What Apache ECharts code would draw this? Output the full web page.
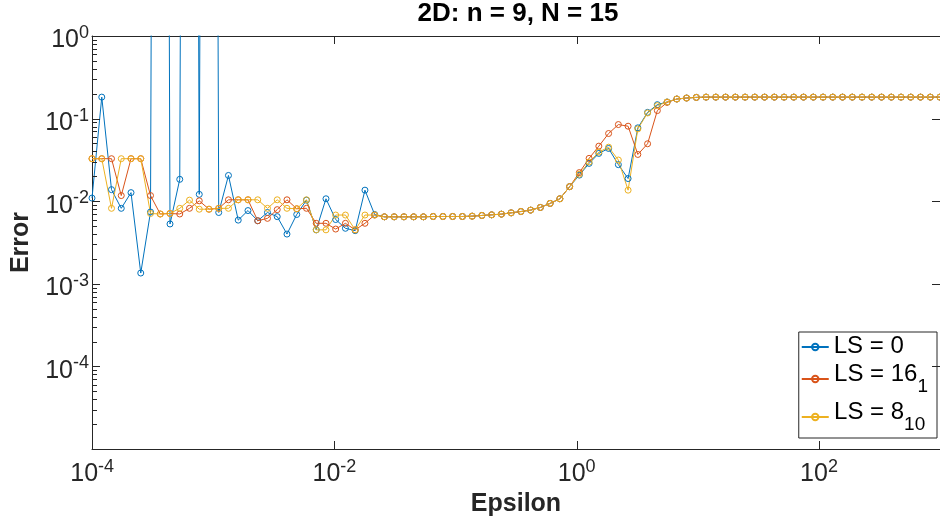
<!DOCTYPE html>
<html>
<head>
<meta charset="utf-8">
<script src="https://cdn.jsdelivr.net/npm/echarts@6/dist/echarts.min.js"></script>
<style>
html, body { margin: 0; padding: 0; background: #fff; }
#chart { width: 940px; height: 522px; }
</style>
</head>
<body>
<div id="chart"></div>
<script>
// sample points (log spaced, 1e-4 .. 1e3)
const epsilon = [
  1.000e-4, 1.204e-4, 1.449e-4, 1.744e-4, 2.099e-4, 2.526e-4, 3.041e-4, 3.660e-4, 4.405e-4, 5.302e-4,
  6.381e-4, 7.681e-4, 9.245e-4, 1.112e-3, 1.338e-3, 1.611e-3, 1.939e-3, 2.334e-3, 2.809e-3, 3.381e-3,
  4.069e-3, 4.897e-3, 5.895e-3, 7.095e-3, 8.540e-3, 1.027e-2, 1.236e-2, 1.488e-2, 1.791e-2, 2.154e-2,
  2.593e-2, 3.121e-2, 3.757e-2, 4.522e-2, 5.443e-2, 6.551e-2, 7.885e-2, 9.490e-2, 0.1142, 0.1374,
  0.1654, 0.1991, 0.2396, 0.2883, 0.3471, 0.4177, 0.5024, 0.6047, 0.7279, 0.8761,
  1.054, 1.269, 1.527, 1.838, 2.213, 2.663, 3.205, 3.857, 4.642, 5.587,
  6.724, 8.093, 9.739, 11.72, 14.11, 16.98, 20.43, 24.60, 29.60, 35.63,
  42.88, 51.61, 62.11, 74.75, 89.97, 108.3, 130.3, 156.8, 188.7, 227.2,
  273.4, 329.1, 396.1, 476.7, 573.7, 690.5, 831.1, 1000
]

// LS = 0 (the 1e30 entries blow up far above the plot)
const errLS0 = [
  0.0109, 0.182, 0.0138, 0.0082, 0.0127, 0.00135, 0.0074, 1e30, 0.0053, 0.0184,
  1e30, 0.0121, 1e30, 0.0073, 0.0205, 0.0059, 0.0077, 0.0058, 0.0073, 0.0065,
  0.0040, 0.0069, 0.0103, 0.0045, 0.0107, 0.0060, 0.0047, 0.0044, 0.0136, 0.0069,
  0.00647, 0.00647, 0.00647, 0.00647, 0.00647, 0.00653, 0.00653, 0.00653, 0.00653, 0.00659,
  0.00672, 0.00684, 0.00697, 0.00723, 0.0075, 0.0078, 0.0084, 0.0094, 0.0107, 0.0150,
  0.0207, 0.0287, 0.0379, 0.0435, 0.0277, 0.0188, 0.0773, 0.119, 0.1475, 0.159,
  0.1726, 0.1774, 0.1806, 0.182, 0.182, 0.182, 0.182, 0.182, 0.182, 0.182,
  0.182, 0.182, 0.182, 0.182, 0.182, 0.182, 0.182, 0.182, 0.182, 0.182,
  0.182, 0.182, 0.182, 0.182, 0.182, 0.182, 0.182, 0.182
]

// LS = 16_1
const errLS16 = [
  0.0327, 0.0327, 0.0327, 0.0117, 0.0327, 0.0327, 0.0117, 0.0070, 0.0071, 0.0070,
  0.0082, 0.0101, 0.0080, 0.0082, 0.0104, 0.0104, 0.0104, 0.0058, 0.0062, 0.0079,
  0.0104, 0.0081, 0.0082, 0.0054, 0.0054, 0.0046, 0.0054, 0.0045, 0.0054, 0.0068,
  0.00647, 0.00647, 0.00647, 0.00647, 0.00647, 0.00653, 0.00653, 0.00653, 0.00653, 0.00659,
  0.00672, 0.00684, 0.00697, 0.00723, 0.0075, 0.0078, 0.0084, 0.0094, 0.0107, 0.0150,
  0.0222, 0.033, 0.0464, 0.066, 0.0847, 0.0809, 0.0368, 0.0496, 0.125, 0.157,
  0.1726, 0.1774, 0.1806, 0.182, 0.182, 0.182, 0.182, 0.182, 0.182, 0.182,
  0.182, 0.182, 0.182, 0.182, 0.182, 0.182, 0.182, 0.182, 0.182, 0.182,
  0.182, 0.182, 0.182, 0.182, 0.182, 0.182, 0.182, 0.182
]

// LS = 8_10
const errLS8 = [
  0.0327, 0.0327, 0.0082, 0.0327, 0.0327, 0.0327, 0.0071, 0.0070, 0.0071, 0.0082,
  0.0103, 0.0080, 0.0080, 0.0082, 0.0082, 0.0104, 0.0104, 0.0104, 0.0082, 0.0104,
  0.0082, 0.0081, 0.0104, 0.0045, 0.0045, 0.0068, 0.0068, 0.0045, 0.0068, 0.0068,
  0.00647, 0.00647, 0.00647, 0.00647, 0.00647, 0.00653, 0.00653, 0.00653, 0.00653, 0.00659,
  0.00672, 0.00684, 0.00697, 0.00723, 0.0075, 0.0078, 0.0084, 0.0094, 0.0107, 0.0150,
  0.0212, 0.0298, 0.0393, 0.0451, 0.0315, 0.0136, 0.075, 0.117, 0.1435, 0.159,
  0.1726, 0.1774, 0.1806, 0.182, 0.182, 0.182, 0.182, 0.182, 0.182, 0.182,
  0.182, 0.182, 0.182, 0.182, 0.182, 0.182, 0.182, 0.182, 0.182, 0.182,
  0.182, 0.182, 0.182, 0.182, 0.182, 0.182, 0.182, 0.182
]

// decade exponents used for ticks and tick labels
const xTickExp = [-4, -2, 0, 2]
const yTickExp = [-4, -3, -2, -1, 0]

const X_MIN = -4, X_MAX = 3, Y_MIN = -5, Y_MAX = 0

const FONT = '"Liberation Sans", Arial, Helvetica, sans-serif'
const AX = '#262626'

// axes run in log10 space, minor ticks at 2..9 of each decade
let yMinor = []
for (let d = Y_MIN; d < Y_MAX; d++) {
  for (let k = 2; k <= 9; k++) yMinor.push(d + Math.log10(k))
}

function powLabel(v) {
  return '{h| }{b|10}{p|' + Math.round(v) + '}'
}
const powRich = {
  h: { fontSize: 1, lineHeight: 29 },
  b: { fontSize: 25, lineHeight: 25, verticalAlign: 'bottom', fontFamily: FONT, color: AX },
  p: { fontSize: 18, lineHeight: 18, verticalAlign: 'top', fontFamily: FONT, color: AX }
}

function legendName(name) {
  if (name === 'LS = 16_1') return '{h| }{m|LS = 16}{s|1}'
  if (name === 'LS = 8_10') return '{h| }{m|LS = 8}{s|10}'
  return '{m|' + name + '}'
}

function mkSeries(name, vals, color) {
  return {
    name: name,
    type: 'line',
    xAxisIndex: 0,
    yAxisIndex: 0,
    data: epsilon.map((x, i) => [Math.log10(x), Math.log10(vals[i])]),
    symbol: 'circle',
    symbolSize: 6,
    showSymbol: true,
    clip: true,
    lineStyle: { color: color, width: 1 },
    itemStyle: { color: 'rgba(255,255,255,0)', borderColor: color, borderWidth: 1 },
    emphasis: { disabled: true }
  }
}

// inward tick marks along the box, placed by the axes' own scales
function mkTicks(points, dx, dy) {
  return {
    type: 'custom',
    xAxisIndex: 0,
    yAxisIndex: 0,
    silent: true,
    clip: false,
    z: 4,
    data: points,
    renderItem: (params, api) => {
      let p = api.coord([api.value(0), api.value(1)])
      let x = Math.round(p[0]) + (dx ? 0 : 0.5)
      let y = Math.round(p[1]) + (dy ? 0 : 0.5)
      return {
        type: 'line',
        shape: { x1: x, y1: y, x2: x + dx, y2: y + dy },
        style: { stroke: AX, lineWidth: 1 }
      }
    }
  }
}

const baseAxis = (extra) => Object.assign({
  type: 'value',
  splitLine: { show: false },
  axisTick: { show: false },
  axisLine: { show: true, onZero: false, lineStyle: { color: AX, width: 1 } },
  axisLabel: { show: false }
}, extra)

let ch = echarts.init(document.getElementById('chart'))
let option = {
  animation: false,
  backgroundColor: '#fff',
  title: {
    text: '2D: n = 9, N = 15',
    left: 518,
    top: 1,
    padding: 0,
    textAlign: 'center',
    textStyle: { fontFamily: FONT, fontSize: 26, fontWeight: 'bold', color: '#000' }
  },
  grid: { left: 92, right: -5, top: 36, bottom: 73, containLabel: false },
  legend: {
    orient: 'vertical',
    right: 3,
    top: 332,
    padding: [2, 9, 4, 2],
    itemGap: 4,
    itemWidth: 27,
    itemHeight: 8,
    selectedMode: false,
    backgroundColor: '#fff',
    borderColor: AX,
    borderWidth: 1,
    formatter: legendName,
    textStyle: {
      fontFamily: FONT,
      color: '#000',
      rich: {
        h: { fontSize: 1, lineHeight: 34 },
        m: { fontSize: 24, lineHeight: 26, verticalAlign: 'top', fontFamily: FONT, color: '#000' },
        s: { fontSize: 19, lineHeight: 20, verticalAlign: 'bottom', fontFamily: FONT, color: '#000' }
      }
    },
    data: ['LS = 0', 'LS = 16_1', 'LS = 8_10']
  },
  xAxis: [
    baseAxis({
      min: X_MIN, max: X_MAX, interval: 2, position: 'bottom',
      axisLabel: { show: true, customValues: xTickExp, formatter: powLabel, rich: powRich, margin: 4, padding: [5, 0, 0, 0] },
      name: 'Epsilon',
      nameLocation: 'middle',
      nameGap: 40,
      nameTextStyle: { fontFamily: FONT, fontSize: 25, fontWeight: 'bold', color: AX }
    }),
    baseAxis({ min: X_MIN, max: X_MAX, interval: 2, position: 'top' })
  ],
  yAxis: [
    baseAxis({
      min: Y_MIN, max: Y_MAX, interval: 1, position: 'left',
      axisLabel: { show: true, customValues: yTickExp, formatter: powLabel, rich: powRich, margin: 3, padding: [5, 0, 0, 0] },
      name: 'Error',
      nameLocation: 'middle',
      nameGap: 57,
      nameTextStyle: { fontFamily: FONT, fontSize: 25, fontWeight: 'bold', color: AX }
    }),
    baseAxis({ min: Y_MIN, max: Y_MAX, interval: 1, position: 'right' })
  ],
  series: [
    mkSeries('LS = 0', errLS0, '#0072BD'),
    mkSeries('LS = 16_1', errLS16, '#D95319'),
    mkSeries('LS = 8_10', errLS8, '#EDB120'),
    mkTicks(yTickExp.map(v => [X_MIN, v]), 8, 0),
    mkTicks(yMinor.map(v => [X_MIN, v]), 5, 0),
    mkTicks(yTickExp.map(v => [X_MAX, v]), -8, 0),
    mkTicks(xTickExp.map(v => [v, Y_MIN]), 0, -8),
    mkTicks(xTickExp.map(v => [v, Y_MAX]), 0, 8)
  ]
}
ch.setOption(option)
</script>
</body>
</html>
